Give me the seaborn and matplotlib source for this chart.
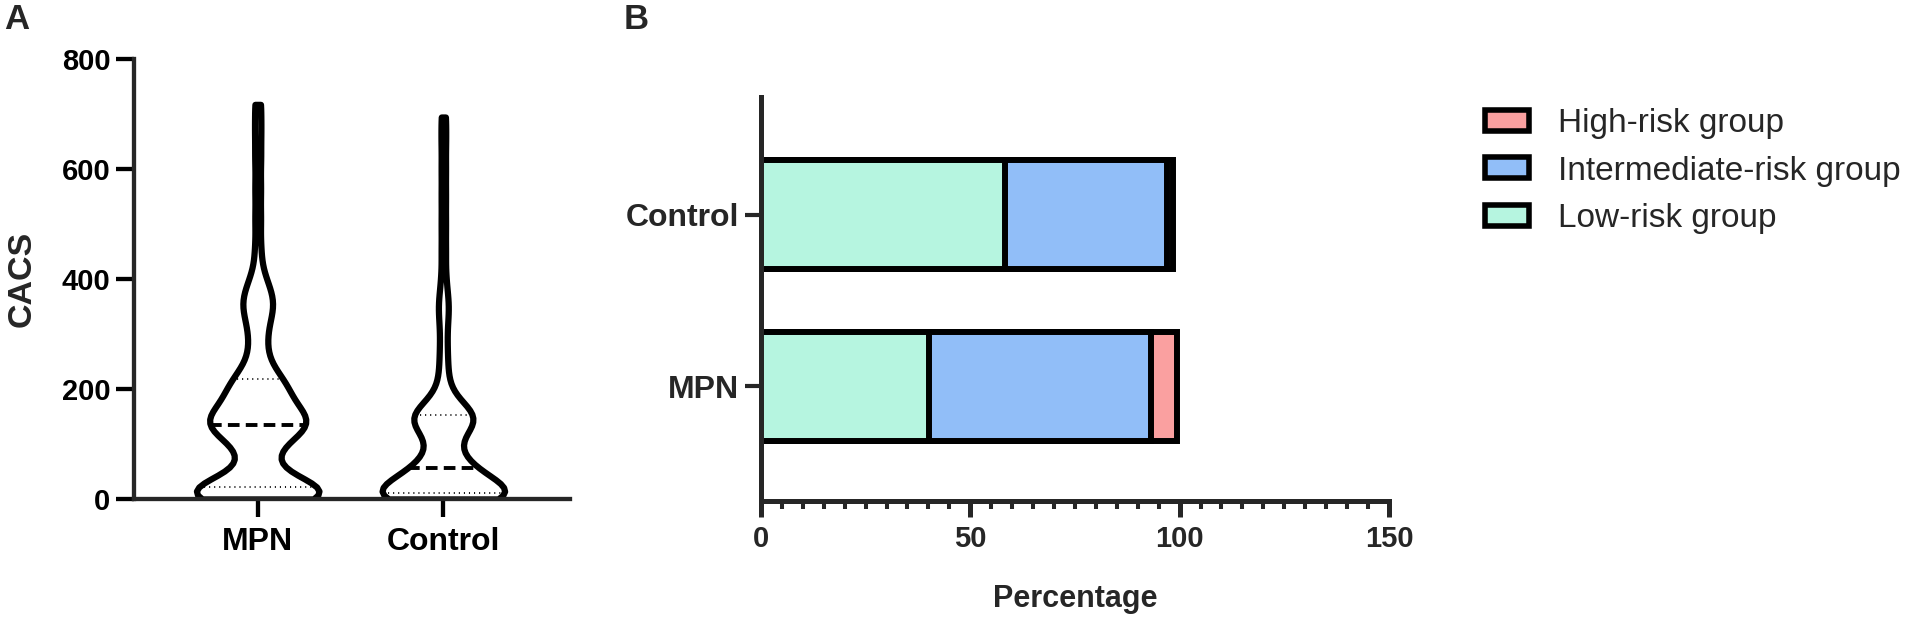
import numpy as np
import pandas as pd
import matplotlib
matplotlib.use('Agg')
import matplotlib.pyplot as plt
import matplotlib.patches as mpatches
import seaborn as sns

# panel A: CACS values per group
mpn_cacs = [0, 0, 0, 0, 1, 2, 3, 3, 4, 5, 6, 8, 9, 10, 11, 12, 13, 15, 17, 18, 20, 21, 22, 24, 25, 27,
            35, 45, 55, 65, 75, 85, 92, 100, 106, 112,
            118, 122, 125, 128, 130, 132, 133, 134, 136, 138, 140, 143, 146, 149,
            152, 155, 158, 161, 165, 170, 175, 180, 185, 190, 195, 200,
            204, 208, 212, 216, 222, 228,
            240, 255, 270, 290, 305, 320, 335, 345, 352, 360, 368, 378, 392, 410,
            455, 510, 565, 620, 670, 718]
control_cacs = [0, 0, 0, 0, 0, 1, 1, 2, 2, 2, 3, 3, 4, 5, 5, 6, 6, 7, 8, 9, 10, 10, 11, 12, 13, 14, 16, 18, 20,
                22, 25, 28, 31, 34, 37, 40, 43, 46, 48, 50, 52, 54, 55,
                58, 62, 68, 75, 82, 90, 98, 106, 114, 120, 126, 131, 135, 139, 142, 144, 146, 147, 148, 149,
                151, 153, 156, 159, 163, 168, 175, 185, 200, 220, 245, 270, 300, 330, 350, 365, 400,
                450, 500, 550, 600, 650, 695]

# panel B: risk group percentages
groups = ['Control', 'MPN']
low_risk = [58.3, 40.2]
mid_risk = [38.7, 52.9]
high_risk = [1.5, 6.3]

risk_labels = ['High-risk group', 'Intermediate-risk group', 'Low-risk group']
risk_colors = ['#FAA0A0', '#91BEF8', '#B6F5E0']

sns.set_style('ticks')
plt.rcParams['font.family'] = ['Liberation Sans', 'DejaVu Sans']

df = pd.DataFrame({
    'group': ['MPN'] * len(mpn_cacs) + ['Control'] * len(control_cacs),
    'CACS': mpn_cacs + control_cacs,
})

fig = plt.figure(figsize=(19.1, 6.19), dpi=100)
ax1 = fig.add_axes([0.0702, 0.1939, 0.2282, 0.7103])
ax2 = fig.add_axes([0.3984, 0.1911, 0.3288, 0.6522])

# ---- A: violin ----
sns.violinplot(data=df, x='group', y='CACS', order=['MPN', 'Control'],
               cut=0, density_norm='width', width=0.66, bw_adjust=0.4,
               inner='quart', color='white', linecolor='black',
               linewidth=4.5, saturation=1, ax=ax1)
for i, ln in enumerate(ax1.lines):
    if i % 3 == 1:
        ln.set_linestyle((0, (3, 1.6)))
        ln.set_linewidth(2.8)
    else:
        ln.set_linestyle((0, (0.6, 2.2)))
        ln.set_linewidth(1.3)

ax1.set_ylim(0, 800)
ax1.set_xlim(-0.666, 1.682)
ax1.set_yticks([0, 200, 400, 600, 800])
ax1.set_xlabel('')
ax1.set_ylabel('')
for s in ['top', 'right']:
    ax1.spines[s].set_visible(False)
for s in ['left', 'bottom']:
    ax1.spines[s].set_linewidth(3.1)
ax1.tick_params(axis='both', length=13, width=3.1, colors='black')
ax1.tick_params(axis='y', pad=4, labelsize=21)
ax1.tick_params(axis='x', pad=7, labelsize=23)
for lab in ax1.get_xticklabels() + ax1.get_yticklabels():
    lab.set_fontweight('bold')

# ---- B: stacked horizontal bars ----
low_arr = np.array(low_risk)
mid_arr = np.array(mid_risk)
high_arr = np.array(high_risk)
stacks = [low_arr + mid_arr + high_arr, low_arr + mid_arr, low_arr]
for vals, col in zip(stacks, risk_colors):
    sns.barplot(x=vals, y=groups, order=groups, color=col, saturation=1,
                edgecolor='black', linewidth=4.3, width=0.636,
                errorbar=None, ax=ax2)

ax2.set_xlim(0, 150)
ax2.set_ylim(1.667, -0.687)
ax2.set_xticks([0, 50, 100, 150])
ax2.set_xticks(np.arange(0, 151, 5), minor=True)
ax2.set_xlabel('')
ax2.set_ylabel('')
for s in ['top', 'right']:
    ax2.spines[s].set_visible(False)
for s in ['left', 'bottom']:
    ax2.spines[s].set_linewidth(3.6)
ax2.tick_params(axis='x', which='major', length=11.5, width=3.6, labelsize=21, pad=6)
ax2.tick_params(axis='x', which='minor', length=5.8, width=2.9)
ax2.tick_params(axis='y', length=11.5, width=3, labelsize=23, pad=4)
for lab in ax2.get_xticklabels() + ax2.get_yticklabels():
    lab.set_fontweight('bold')

handles = [mpatches.Patch(facecolor=c, edgecolor='black', linewidth=4)
           for c in risk_colors]
fig.legend(handles, risk_labels, loc='upper left',
           bbox_to_anchor=(1485 / 1910, 1 - 108 / 619),
           frameon=False, fontsize=24, borderpad=0, borderaxespad=0,
           handlelength=1.33, handleheight=0.6, handletextpad=0.85,
           labelspacing=0.5)

fig.text(22 / 1910, 1 - 279 / 619, 'CACS', rotation=90, ha='center',
         va='center', fontsize=24.5, fontweight='bold')
fig.text(1075 / 1910, 1 - 599 / 619, 'Percentage', ha='center',
         va='center', fontsize=22, fontweight='bold')
fig.text(4 / 1910, 1 - 3 / 619, 'A', ha='left', va='top',
         fontsize=25, fontweight='bold')
fig.text(624 / 1910, 1 - 3 / 619, 'B', ha='left', va='top',
         fontsize=25, fontweight='bold')

fig.savefig('out.png', dpi=100)
